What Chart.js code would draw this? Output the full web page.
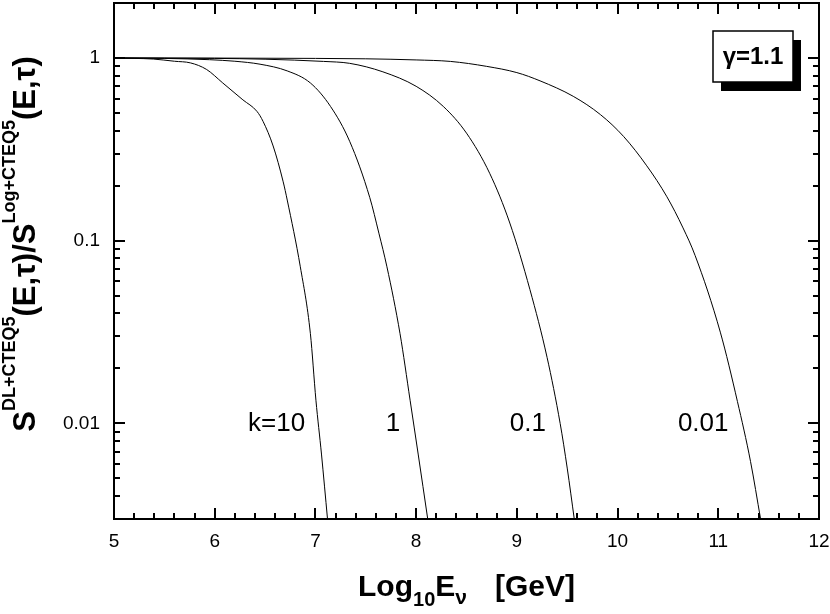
<!DOCTYPE html>
<html>
<head>
<meta charset="utf-8">
<script src="https://cdn.jsdelivr.net/npm/chart.js@4.4.1/dist/chart.umd.min.js"></script>
<style>
  html, body { margin: 0; padding: 0; background: #fff; }
  canvas { display: block; }
</style>
</head>
<body>
<canvas id="chart" width="830" height="614"></canvas>
<script>
const FONT = "'Liberation Sans', Arial, Helvetica, sans-serif";

// log10 E [GeV] and ratio values, one pair of arrays per curve
const k10E = [5, 5.2, 5.39, 5.6, 5.76, 5.92, 6.08, 6.28, 6.42, 6.48, 6.58, 6.68, 6.72, 6.85, 6.95, 7.005, 7.06, 7.12];
const k10S = [1, 0.995, 0.987, 0.96, 0.94, 0.865, 0.73, 0.59, 0.51, 0.45, 0.33, 0.21, 0.167, 0.072, 0.031, 0.0134, 0.0068, 0.003];

const k1E = [5, 5.5, 5.95, 6.2, 6.45, 6.72, 6.95, 7.15, 7.34, 7.54, 7.63, 7.71, 7.84, 7.94, 8.02, 8.115];
const k1S = [1, 0.995, 0.979, 0.96, 0.925, 0.85, 0.73, 0.543, 0.35, 0.172, 0.11, 0.072, 0.031, 0.0134, 0.0068, 0.003];

const k01E = [5, 6, 6.5, 7.08, 7.34, 7.67, 8.0, 8.27, 8.5, 8.73, 8.93, 9.13, 9.3, 9.43, 9.5, 9.57];
const k01S = [1, 0.995, 0.985, 0.958, 0.935, 0.84, 0.70, 0.543, 0.388, 0.234, 0.125, 0.054, 0.023, 0.01, 0.0057, 0.003];

const k001E = [5, 6, 7, 7.5, 8, 8.34, 8.7, 9.0, 9.23, 9.56, 9.83, 10.06, 10.29, 10.49, 10.65, 10.77, 11.02, 11.19, 11.32, 11.42];
const k001S = [1, 0.999, 0.995, 0.99, 0.976, 0.958, 0.9, 0.832, 0.75, 0.617, 0.49, 0.372, 0.257, 0.174, 0.1175, 0.083, 0.0316, 0.0132, 0.0062, 0.003];

const yTicks = [0.01, 0.1, 1];
const curveLabels = ['k=10', '1', '0.1', '0.01'];
const curveLabelE = [6.615, 7.77, 9.11, 10.85];
const curveLabelS = 0.01;
const gammaText = 'γ=1.1';

function zip(xs, ys) {
  return xs.map((v, i) => ({ x: v, y: ys[i] }));
}

function curve(xs, ys) {
  return {
    data: zip(xs, ys),
    borderColor: '#000',
    borderWidth: 1,
    pointRadius: 0,
    fill: false,
    cubicInterpolationMode: 'monotone'
  };
}

// pieces are [text, size, baselineShift, gapBefore]
function richWidth(ctx, parts) {
  let w = 0;
  parts.forEach(p => {
    ctx.font = 'bold ' + p[1] + 'px ' + FONT;
    w += (p[3] || 0) + ctx.measureText(p[0]).width;
  });
  return w;
}

function drawRich(ctx, parts, x, y) {
  let cx = x;
  parts.forEach(p => {
    ctx.font = 'bold ' + p[1] + 'px ' + FONT;
    cx += p[3] || 0;
    ctx.fillText(p[0], cx, y + p[2]);
    cx += ctx.measureText(p[0]).width;
  });
}

function noPadding(scale) {
  scale.paddingTop = 0;
  scale.paddingBottom = 0;
  scale.paddingLeft = 0;
  scale.paddingRight = 0;
}

const framePlugin = {
  id: 'frame',
  afterDraw(chart) {
    const { ctx, chartArea: a, scales: { x, y } } = chart;
    ctx.save();
    ctx.strokeStyle = '#000';
    ctx.lineWidth = 2;
    ctx.strokeRect(a.left, a.top, a.right - a.left, a.bottom - a.top);

    ctx.beginPath();
    for (let i = 0; i <= 35; i++) {
      const px = Math.round(x.getPixelForValue(5 + i / 5));
      const len = i % 5 === 0 ? 11 : 6;
      ctx.moveTo(px, a.bottom); ctx.lineTo(px, a.bottom - len);
      ctx.moveTo(px, a.top); ctx.lineTo(px, a.top + len);
    }
    [0.001, 0.01, 0.1, 1].forEach(d => {
      for (let m = 1; m <= 9; m++) {
        const v = m * d;
        if (v < y.min * 0.999 || v > y.max * 1.001) continue;
        const py = Math.round(y.getPixelForValue(v));
        const len = m === 1 ? 11 : 6;
        ctx.moveTo(a.left, py); ctx.lineTo(a.left + len, py);
        ctx.moveTo(a.right, py); ctx.lineTo(a.right - len, py);
      }
    });
    ctx.stroke();

    // curve labels
    ctx.fillStyle = '#000';
    ctx.font = '26px ' + FONT;
    ctx.textAlign = 'center';
    ctx.textBaseline = 'middle';
    curveLabels.forEach((t, i) => {
      ctx.fillText(t, x.getPixelForValue(curveLabelE[i]), y.getPixelForValue(curveLabelS));
    });

    // gamma box with drop shadow
    const bx = a.right - 106, by = a.top + 28, bw = 80, bh = 51;
    ctx.fillRect(bx + 8, by + 9, bw, bh);
    ctx.fillStyle = '#fff';
    ctx.fillRect(bx, by, bw, bh);
    ctx.lineWidth = 1.5;
    ctx.strokeRect(bx, by, bw, bh);
    ctx.fillStyle = '#000';
    ctx.font = 'bold 24px ' + FONT;
    ctx.fillText(gammaText, bx + bw / 2, by + bh / 2 + 1);

    // axis titles
    ctx.textAlign = 'left';
    ctx.textBaseline = 'alphabetic';
    const xParts = [['Log', 30, 0], ['10', 20, 10], ['E', 30, 0], ['ν', 21, 8], ['[GeV]', 30, 0, 28]];
    const xw = richWidth(ctx, xParts);
    drawRich(ctx, xParts, (a.left + a.right) / 2 - xw / 2, 596);

    const yParts = [['S', 31, 0], ['DL+CTEQ5', 18, -20], ['(E,τ)/S', 31, 0], ['Log+CTEQ5', 18, -20], ['(E,τ)', 31, 0]];
    const yw = richWidth(ctx, yParts);
    ctx.translate(35, 244);
    ctx.rotate(-Math.PI / 2);
    drawRich(ctx, yParts, -yw / 2, 0);
    ctx.restore();
  }
};

new Chart(document.getElementById('chart').getContext('2d'), {
  type: 'line',
  data: {
    datasets: [curve(k10E, k10S), curve(k1E, k1S), curve(k01E, k01S), curve(k001E, k001S)]
  },
  options: {
    responsive: false,
    animation: false,
    devicePixelRatio: 1,
    layout: { padding: { left: 0, top: 3, right: 11, bottom: 0 } },
    plugins: { legend: { display: false }, tooltip: { enabled: false } },
    scales: {
      x: {
        type: 'linear',
        min: 5,
        max: 12,
        grid: { display: false, drawTicks: false },
        border: { display: false },
        ticks: { stepSize: 1, padding: 11, color: '#000', font: { family: FONT, size: 19 } },
        afterFit(scale) { scale.height = 95; noPadding(scale); }
      },
      y: {
        type: 'logarithmic',
        min: 0.003,
        max: 2,
        grid: { display: false, drawTicks: false },
        border: { display: false },
        afterBuildTicks(scale) { scale.ticks = yTicks.map(v => ({ value: v })); },
        ticks: { padding: 14, color: '#000', font: { family: FONT, size: 19 }, callback: v => String(v) },
        afterFit(scale) { scale.width = 114; noPadding(scale); }
      }
    }
  },
  plugins: [framePlugin]
});
</script>
</body>
</html>
